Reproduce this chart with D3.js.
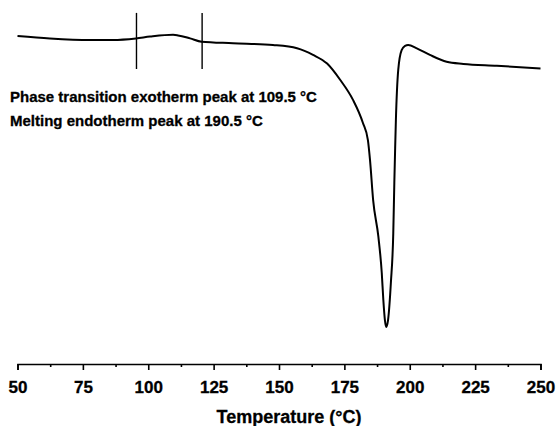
<!DOCTYPE html>
<html>
<head>
  <meta charset="utf-8">
  <title>DSC thermogram</title>
  <style>
    body { margin: 0; background: #fff; }
    text { font-family: "Liberation Sans", Arial, sans-serif; font-weight: bold; fill: #000;
           stroke: #000; stroke-width: 0.3px; }
    .axis path, .axis line { stroke: #000; stroke-width: 1.6px; }
  </style>
</head>
<body>
  <script src="https://cdn.jsdelivr.net/npm/d3@7"></script>
  <script>

    // data (heat flow in arbitrary units, exo up)
    var temps = [50, 62.4, 77.7, 86.5, 95.3, 100.7, 109.5, 111.4, 116, 120.4,
                 132.4, 147.7, 156.9, 163, 168.4, 173.3, 178.3, 182.1, 184, 184.8,
                 186, 188, 189.3, 189.9, 190.5, 191.0, 191.7, 192.8, 193.7, 194.1,
                 194.4, 194.7, 195.6, 196.9, 198.2, 199.4, 202.7, 207.7, 214.1, 220.5,
                 233.3, 250];
    var heatFlow = [0, -0.08, -0.13, -0.13, -0.08, -0.02, 0.04, 0.02, -0.08, -0.19,
                    -0.24, -0.30, -0.41, -0.63, -0.92, -1.45, -2.13, -2.90, -3.47, -4.13,
                    -5.47, -6.69, -7.90, -8.80, -9.47, -9.70, -9.47, -8.20, -6.57, -4.90,
                    -3.80, -2.80, -1.13, -0.47, -0.33, -0.30, -0.41, -0.63, -0.86, -0.93,
                    -0.99, -1.08];

    // integration limits drawn as vertical bars
    var markerTemps = [95.5, 120.6];
    var markerRange = [0.77, -1.1];

    var xTicks = [50, 75, 100, 125, 150, 175, 200, 225, 250];
    var xMinorTicks = [62.5, 87.5, 112.5, 137.5, 162.5, 187.5, 212.5, 237.5];

    var notes = ["Phase transition exotherm peak at 109.5 \u00B0C",
                 "Melting endotherm peak at 190.5 \u00B0C"];
    var xTitle = "Temperature (\u00B0C)";

    // dimensions
    var margin = {top: 36, right: 16.5, bottom: 62, left: 17.5},
        width = 557 - margin.left - margin.right,
        height = 426 - margin.top - margin.bottom;

    var xScale = d3.scaleLinear().domain([50, 250]).range([0, width]);
    var yScale = d3.scaleLinear().domain([0, -10]).range([0, 300]);

    var svg = d3.select('body')
                .append('svg')
                    .attr('width', 557)
                    .attr('height', 426)
                .append('g')
                    .attr('transform', "translate(" + margin.left + "," + margin.top + ")");

    var data = temps.map(function(t, i) { return {t: t, v: heatFlow[i]}; });

    // the curve
    var line = d3.line()
        .x(function(d) { return xScale(d.t); })
        .y(function(d) { return yScale(d.v); })
        .curve(d3.curveMonotoneX);

    svg.append('path')
      .datum(data)
      .attr('fill', 'none')
      .attr('stroke', '#000')
      .attr('stroke-width', 2)
      .attr('d', line);

    // vertical markers
    svg.selectAll('.marker')
      .data(markerTemps)
      .enter()
      .append('line')
      .attr('class', 'marker')
      .attr('x1', function(d) { return xScale(d); })
      .attr('x2', function(d) { return xScale(d); })
      .attr('y1', yScale(markerRange[0]))
      .attr('y2', yScale(markerRange[1]))
      .attr('stroke', '#000')
      .attr('stroke-width', 1.4);

    // x axis
    var axisY = 328;
    var x_axis = d3.axisBottom(xScale)
        .tickValues(xTicks)
        .tickSize(6)
        .tickPadding(11)
        .tickFormat(d3.format('d'));

    var gx = svg.append('g')
      .attr('class', 'axis')
      .attr('transform', "translate(0," + axisY + ")")
      .call(x_axis);
    gx.selectAll('text').style('font-size', '17px');

    var minor = svg.append('g')
      .attr('class', 'axis')
      .attr('transform', "translate(0," + axisY + ")")
      .call(d3.axisBottom(xScale).tickValues(xMinorTicks).tickSize(3).tickFormat(''));
    minor.select('.domain').remove();

    // axis title
    svg.append('text')
      .attr('x', 271.5)
      .attr('y', 386.5)
      .attr('text-anchor', 'middle')
      .style('font-size', '18px')
      .text(xTitle);

    // annotations
    svg.selectAll('.note')
      .data(notes)
      .enter()
      .append('text')
      .attr('class', 'note')
      .attr('x', 10 - margin.left)
      .attr('y', function(d, i) { return 101.7 - margin.top + i * 24; })
      .style('font-size', '15px')
      .text(function(d) { return d; });

  </script>
</body>
</html>
